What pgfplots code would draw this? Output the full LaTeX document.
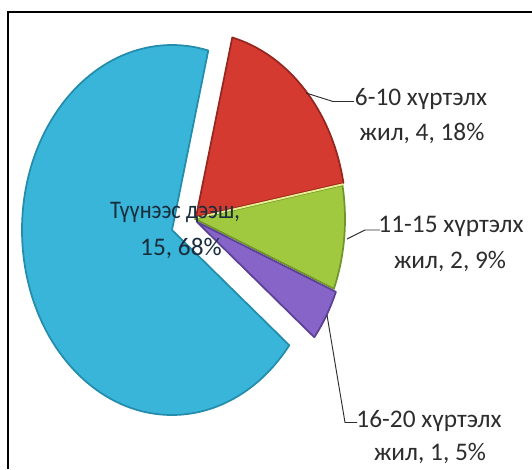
\documentclass[border=0pt]{standalone}
\usepackage{pgfplots}
\pgfplotsset{compat=1.18}
\usepackage{fontspec}
\setmainfont{Carlito}
\definecolor{cblue}{RGB}{56,181,216}
\definecolor{cblueD}{RGB}{36,140,172}
\definecolor{cred}{RGB}{212,58,48}
\definecolor{credD}{RGB}{150,38,32}
\definecolor{cgreen}{RGB}{160,201,64}
\definecolor{cgreenD}{RGB}{112,150,42}
\definecolor{cpurple}{RGB}{134,100,200}
\definecolor{cpurpleD}{RGB}{92,64,150}
\definecolor{ctext}{RGB}{45,45,45}
\begin{document}
\begin{tikzpicture}
% values of the slices (count)
\def\vA{4}   % 6-10
\def\vB{2}   % 11-15
\def\vC{1}   % 16-20
\def\vD{15}  % more
\pgfmathsetmacro\tot{\vA+\vB+\vC+\vD}
\pgfmathsetmacro\aA{76}
\pgfmathsetmacro\aB{\aA-360*\vA/\tot}
\pgfmathsetmacro\aC{\aB-360*\vB/\tot}
\pgfmathsetmacro\aD{\aC-360*\vC/\tot}
\pgfmathsetmacro\aE{\aD-360*\vD/\tot}
\begin{axis}[x=0.75pt,y=0.75pt,xmin=0,xmax=532,ymin=0,ymax=469,y dir=reverse,
  hide axis,scale only axis,clip=false]
% frame
\draw[black,line width=1.5pt] (axis cs:8,469) -- (axis cs:8,12) -- (axis cs:532,12);
% slices
\filldraw[fill=cblue,draw=cblueD,line width=1.3pt,line join=round] (axis cs:172,230) -- ++(\aD:112.5pt and 138.75pt)
  arc[start angle=\aD,end angle=\aE,x radius=112.5pt,y radius=138.75pt] -- cycle;
\filldraw[fill=cred,draw=credD,line width=1.3pt,line join=round] (axis cs:196,217) -- ++(\aA:112.5pt and 138.75pt)
  arc[start angle=\aA,end angle=\aB,x radius=112.5pt,y radius=138.75pt] -- cycle;
\filldraw[fill=cgreen,draw=cgreenD,line width=1.3pt,line join=round] (axis cs:195,219) -- ++(\aB:112.5pt and 138.75pt)
  arc[start angle=\aB,end angle=\aC,x radius=112.5pt,y radius=138.75pt] -- cycle;
\draw[line width=1.4pt,draw={rgb,255:red,232;green,238;blue,140}] (axis cs:196,218) ++(\aB:112.5pt and 138.75pt) -- (axis cs:196,218);
\filldraw[fill=cpurple,draw=cpurpleD,line width=1.3pt,line join=round] (axis cs:197,222) -- ++(\aC:112.5pt and 138.75pt)
  arc[start angle=\aC,end angle=\aD,x radius=112.5pt,y radius=138.75pt] -- cycle;
% leader lines
\draw[ctext,line width=0.7pt] (axis cs:306,93) -- (axis cs:333,101.5) -- (axis cs:354,101.5);
\draw[ctext,line width=0.7pt] (axis cs:347,239) -- (axis cs:365,230) -- (axis cs:380,230);
\draw[ctext,line width=0.7pt] (axis cs:327,315) -- (axis cs:345,422.5) -- (axis cs:357,422.5);
% labels
\tikzset{lab/.style={anchor=base,text=ctext,inner sep=0pt,font=\fontsize{19}{23}\selectfont}}
\node[lab] at (axis cs:421,105) {6-10 хүртэлх};
\node[lab] at (axis cs:422,140) {жил, 4, 18\%};
\node[lab] at (axis cs:451,232) {11-15 хүртэлх};
\node[lab] at (axis cs:450,268) {жил, 2, 9\%};
\node[lab] at (axis cs:429,427) {16-20 хүртэлх};
\node[lab] at (axis cs:430,460) {жил, 1, 5\%};
\node[lab,xscale=0.88,text={rgb,255:red,25;green,45;blue,60}] at (axis cs:175,218) {Түүнээс дээш,};
\node[lab,text={rgb,255:red,25;green,45;blue,60}] at (axis cs:181,255) {15, 68\%};
\end{axis}
\pgfresetboundingbox
\path (current axis.south west) rectangle (current axis.north east);
\end{tikzpicture}
\end{document}
